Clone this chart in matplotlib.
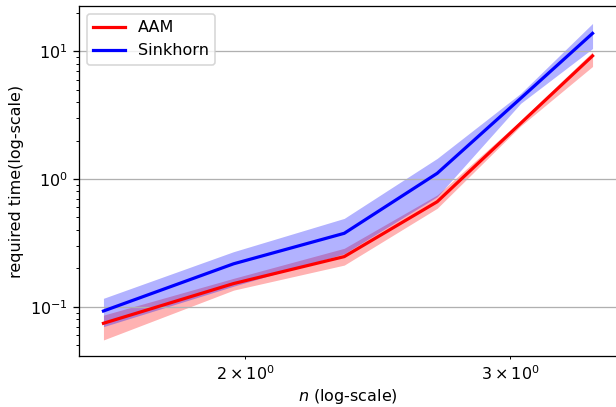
import matplotlib
matplotlib.use('Agg')
import matplotlib.pyplot as plt
import numpy as np

# x positions (log axis) and timings
x = [1.61, 1.965, 2.328, 2.684, 3.05, 3.405]

aam_mean = [0.0743, 0.152, 0.247, 0.664, 2.73, 9.2]
aam_low = [0.055, 0.135, 0.212, 0.59, 2.6, 7.6]
aam_high = [0.086, 0.167, 0.287, 0.75, 2.87, 9.9]

sink_mean = [0.0927, 0.217, 0.376, 1.108, 4.28, 13.8]
sink_low = [0.0699, 0.145, 0.26, 0.727, 3.91, 10.5]
sink_high = [0.1165, 0.27, 0.492, 1.45, 4.68, 16.5]

DPI = 115
fig = plt.figure(figsize=(616 / DPI, 407 / DPI), dpi=DPI)
ax = fig.add_axes([79 / 616, 51 / 407, 538 / 616, 350 / 407])

ax.plot(x, aam_mean, color='red', lw=2, label='AAM')
ax.fill_between(x, aam_low, aam_high, color='red', alpha=0.3, lw=0)
ax.plot(x, sink_mean, color='blue', lw=2, label='Sinkhorn')
ax.fill_between(x, sink_low, sink_high, color='blue', alpha=0.3, lw=0)

ax.set_xscale('log')
ax.set_yscale('log')
ax.set_ylim(0.0412, 22.6)
ax.grid(True)
ax.set_xlabel('$n$ (log-scale)', labelpad=2)
ax.set_ylabel('required time(log-scale)')
ax.legend(loc='upper left')

fig.savefig('out.png', dpi=DPI)
